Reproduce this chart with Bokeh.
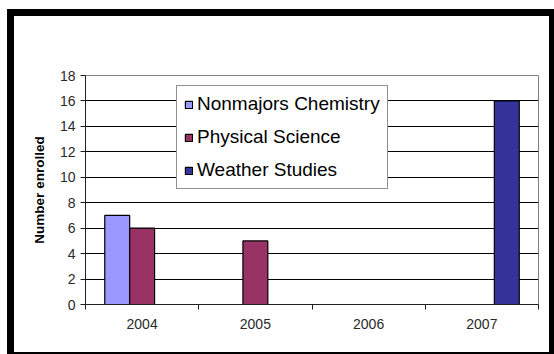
from bokeh.plotting import figure
from bokeh.models import (Range1d, FixedTicker, Legend, LegendItem, ColumnDataSource,
                          InlineStyleSheet)
from bokeh.transform import dodge
from bokeh.embed import file_html
from bokeh.resources import INLINE

# ---- data ----
years = ["2004", "2005", "2006", "2007"]
nonmajors_chem = [7, 0, 0, 0]
physical_sci = [6, 5, 0, 0]
weather_studies = [0, 0, 0, 16]
series_names = ["Nonmajors Chemistry", "Physical Science", "Weather Studies"]
series_colors = ["#9999FF", "#993366", "#333399"]
y_ticks = list(range(0, 19, 2))

FONT = "Liberation Sans"
W, H = 554, 354

idx = [i + 0.5 for i in range(len(years))]
src = ColumnDataSource(dict(x=idx, nc=nonmajors_chem, ps=physical_sci, ws=weather_studies))

p = figure(width=W, height=H, x_range=Range1d(0, len(years)), y_range=Range1d(0, 18),
           output_backend="svg", toolbar_location=None,
           min_border_left=85, min_border_right=16, min_border_top=75, min_border_bottom=50)
p.background_fill_color = "white"
p.border_fill_color = "white"
p.outline_line_color = "#808080"
p.outline_line_width = 1

bw = 0.22
r_nc = p.vbar(x=dodge("x", -bw, range=p.x_range), top="nc", width=bw, source=src,
              fill_color=series_colors[0], line_color="black", line_width=1.2)
r_ps = p.vbar(x=dodge("x", 0, range=p.x_range), top="ps", width=bw, source=src,
              fill_color=series_colors[1], line_color="black", line_width=1.2)
r_ws = p.vbar(x=dodge("x", bw, range=p.x_range), top="ws", width=bw, source=src,
              fill_color=series_colors[2], line_color="black", line_width=1.2)

# grid
p.xgrid.visible = False
p.ygrid.ticker = FixedTicker(ticks=y_ticks)
p.ygrid.grid_line_color = "black"
p.ygrid.grid_line_width = 1

# y axis
ya = p.yaxis[0]
ya.ticker = FixedTicker(ticks=y_ticks)
ya.axis_line_color = "#202020"
ya.major_tick_line_color = "#202020"
ya.major_tick_out = 5
ya.major_tick_in = 0
ya.minor_tick_line_color = None
ya.major_label_text_font = FONT
ya.major_label_text_font_size = "14px"
ya.major_label_text_color = "#2a2a2a"
ya.major_label_standoff = 5
ya.axis_label = "Number enrolled"
ya.axis_label_text_font = FONT
ya.axis_label_text_font_style = "bold"
ya.axis_label_text_font_size = "13.5px"
ya.axis_label_text_color = "black"
ya.axis_label_standoff = 10

# x axis
xa = p.xaxis[0]
xa.ticker = FixedTicker(ticks=idx, minor_ticks=list(range(len(years) + 1)))
xa.major_label_overrides = {v: y for v, y in zip(idx, years)}
xa.axis_line_color = "#202020"
xa.major_tick_line_color = None
xa.major_tick_out = 0
xa.major_tick_in = 0
xa.minor_tick_line_color = "#202020"
xa.minor_tick_out = 5
xa.minor_tick_in = 0
xa.major_label_text_font = FONT
xa.major_label_text_font_size = "14px"
xa.major_label_text_color = "#2a2a2a"
xa.major_label_standoff = 9

# legend
legend = Legend(items=[LegendItem(label=series_names[0], renderers=[r_nc]),
                       LegendItem(label=series_names[1], renderers=[r_ps]),
                       LegendItem(label=series_names[2], renderers=[r_ws])],
                location=(91, 115))
legend.label_text_font = FONT
legend.label_text_font_size = "19px"
legend.label_text_color = "black"
legend.glyph_width = 9
legend.glyph_height = 9
legend.label_height = 20
legend.label_width = 176
legend.label_standoff = 4
legend.spacing = 11
legend.padding = 7
legend.margin = 0
legend.border_line_color = "#222222"
legend.border_line_width = 1
legend.background_fill_color = "white"
legend.background_fill_alpha = 1
p.add_layout(legend, "center")

# outer black frame of the picture (drawn by CSS on top of the canvas)
frame_css = """
:host { position: relative; }
:host::after {
  content: "";
  position: absolute;
  left: 7px; top: 9px; width: 547px; height: 345px;
  box-sizing: border-box;
  border-style: solid;
  border-color: black;
  border-width: 7px 5px 2px 7px;
  pointer-events: none;
  z-index: 100;
}
"""
p.stylesheets = [InlineStyleSheet(css=frame_css)]

open("out.html", "w").write(file_html(p, INLINE))
